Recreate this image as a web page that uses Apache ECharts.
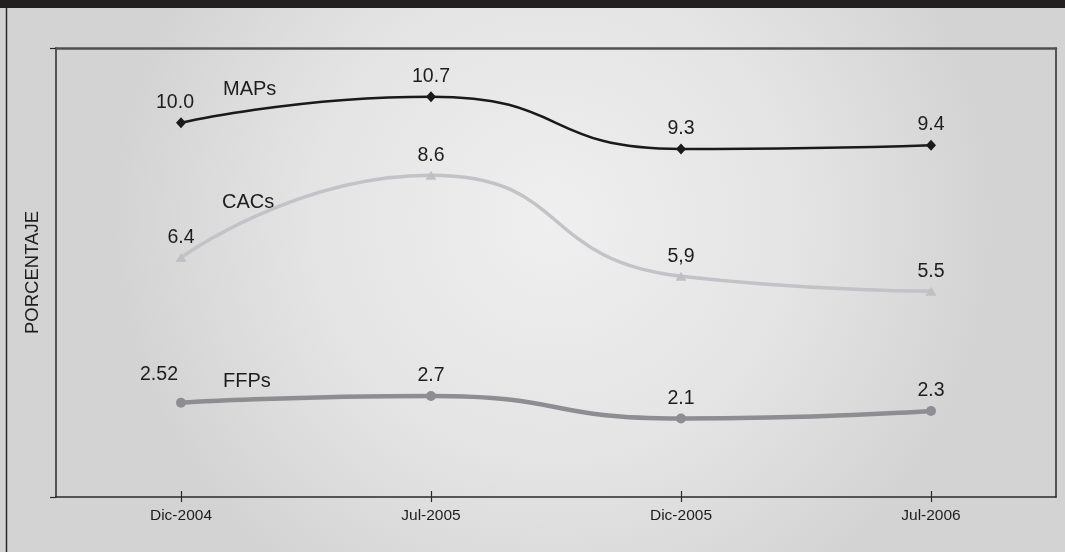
<!DOCTYPE html>
<html>
<head>
<meta charset="utf-8">
<style>
  html, body { margin: 0; padding: 0; background: #dcdcdc; }
  #chart { width: 1065px; height: 552px; }
</style>
<script src="https://cdn.jsdelivr.net/npm/echarts@6/dist/echarts.min.js"></script>
</head>
<body>
<div id="chart"></div>
<script>
// Periods on the horizontal axis
const periods = ['Dic-2004', 'Jul-2005', 'Dic-2005', 'Jul-2006'];

// Percentages per programme
const mapsValues = [10.0, 10.7, 9.3, 9.4];
const cacsValues = [6.4, 8.6, 5.9, 5.5];
const ffpsValues = [2.52, 2.7, 2.1, 2.3];

// Value labels as printed next to each point
const mapsLabels = ['10.0', '10.7', '9.3', '9.4'];
const cacsLabels = ['6.4', '8.6', '5,9', '5.5'];
const ffpsLabels = ['2.52', '2.7', '2.1', '2.3'];

const seriesNames = ['MAPs', 'CACs', 'FFPs'];
const axisTitle = 'PORCENTAJE';

const FONT = '"Liberation Sans", Arial, sans-serif';
const INK = '#1f1c1d';

const chart = echarts.init(document.getElementById('chart'), null, { renderer: 'canvas' });

function valueLabel(labels) {
  return {
    show: true,
    position: 'top',
    distance: 5,
    fontFamily: FONT,
    fontSize: 19.5,
    color: INK,
    formatter: p => labels[p.dataIndex]
  };
}

const option = {
  animation: false,
  backgroundColor: {
    type: 'radial', x: 0.52, y: 0.4, r: 0.8,
    colorStops: [
      { offset: 0, color: '#efefef' },
      { offset: 0.55, color: '#e4e4e4' },
      { offset: 1, color: '#d3d3d3' }
    ]
  },
  grid: { left: 56, right: 9, top: 48, bottom: 55, containLabel: false },
  xAxis: [
    {
      type: 'category', position: 'bottom', data: periods, boundaryGap: true,
      axisLine: { show: true, lineStyle: { color: '#2a2a2a', width: 1.5 } },
      axisTick: { show: true, alignWithLabel: true, inside: false, length: 5,
                  lineStyle: { color: '#2a2a2a', width: 1.2 } },
      axisLabel: { fontFamily: FONT, fontSize: 15.5, color: INK, margin: 11 },
      splitLine: { show: false }
    },
    {
      type: 'category', position: 'bottom', data: periods, boundaryGap: true,
      axisLine: { show: false },
      axisTick: { show: true, alignWithLabel: true, inside: true, length: 6,
                  lineStyle: { color: '#2a2a2a', width: 1.2 } },
      axisLabel: { show: false },
      splitLine: { show: false }
    },
    {
      type: 'category', position: 'top', data: periods, boundaryGap: true,
      axisLine: { show: true, lineStyle: { color: '#505050', width: 2.5 } },
      axisTick: { show: false }, axisLabel: { show: false }, splitLine: { show: false }
    }
  ],
  yAxis: [
    {
      type: 'value', position: 'left', min: 0, max: 12, interval: 12,
      name: axisTitle, nameLocation: 'middle', nameGap: 14, nameRotate: 90,
      nameTextStyle: { fontFamily: FONT, fontSize: 18.5, color: INK },
      axisLine: { show: true, lineStyle: { color: '#2a2a2a', width: 1.5 } },
      axisTick: { show: true, inside: false, length: 6, lineStyle: { color: '#2a2a2a', width: 1.2 } },
      axisLabel: { show: false },
      splitLine: { show: false }
    },
    {
      type: 'value', position: 'right', min: 0, max: 12, interval: 12,
      axisLine: { show: true, lineStyle: { color: '#2a2a2a', width: 1.5 } },
      axisTick: { show: false }, axisLabel: { show: false }, splitLine: { show: false }
    }
  ],
  series: [
    {
      name: seriesNames[0], type: 'line', xAxisIndex: 0, yAxisIndex: 0,
      data: mapsValues.map((v, i) => i === 0
        ? { value: v, label: { offset: [-6, 0] } }
        : { value: v }),
      smooth: 0.55,
      symbol: 'diamond', symbolSize: [10, 11],
      itemStyle: { color: '#1a1a1a' },
      lineStyle: { color: '#1a1a1a', width: 2.5 },
      label: valueLabel(mapsLabels),
      z: 4
    },
    {
      name: seriesNames[1], type: 'line', xAxisIndex: 0, yAxisIndex: 0,
      data: cacsValues, smooth: 0.55,
      symbol: 'triangle', symbolSize: [11, 9],
      itemStyle: { color: '#c0c0c4' },
      lineStyle: { color: '#c3c3c7', width: 3.5 },
      label: valueLabel(cacsLabels),
      z: 3
    },
    {
      name: seriesNames[2], type: 'line', xAxisIndex: 0, yAxisIndex: 0,
      data: ffpsValues.map((v, i) => i === 0
        ? { value: v, label: { offset: [-22, -8] } }
        : { value: v }),
      smooth: 0.55,
      symbol: 'circle', symbolSize: 10,
      itemStyle: { color: '#8e8e92' },
      lineStyle: { color: '#8e8e92', width: 4.5 },
      label: valueLabel(ffpsLabels),
      z: 2
    }
  ],
  graphic: [
    // dark band across the top edge
    { type: 'rect', left: 0, top: 0, shape: { width: 1065, height: 8 },
      style: { fill: '#231f20' }, silent: true },
    // outer frame line on the left
    { type: 'line', shape: { x1: 6.5, y1: 8, x2: 6.5, y2: 552 },
      style: { stroke: '#2a2a2a', lineWidth: 1.5 }, silent: true },
    // series names written beside the curves
    { type: 'text', x: 223, y: 89,
      style: { text: seriesNames[0], font: '20px ' + FONT, fill: INK, textVerticalAlign: 'middle' } },
    { type: 'text', x: 222, y: 202,
      style: { text: seriesNames[1], font: '20px ' + FONT, fill: INK, textVerticalAlign: 'middle' } },
    { type: 'text', x: 223, y: 381,
      style: { text: seriesNames[2], font: '20px ' + FONT, fill: INK, textVerticalAlign: 'middle' } }
  ]
};

chart.setOption(option);
</script>
</body>
</html>
